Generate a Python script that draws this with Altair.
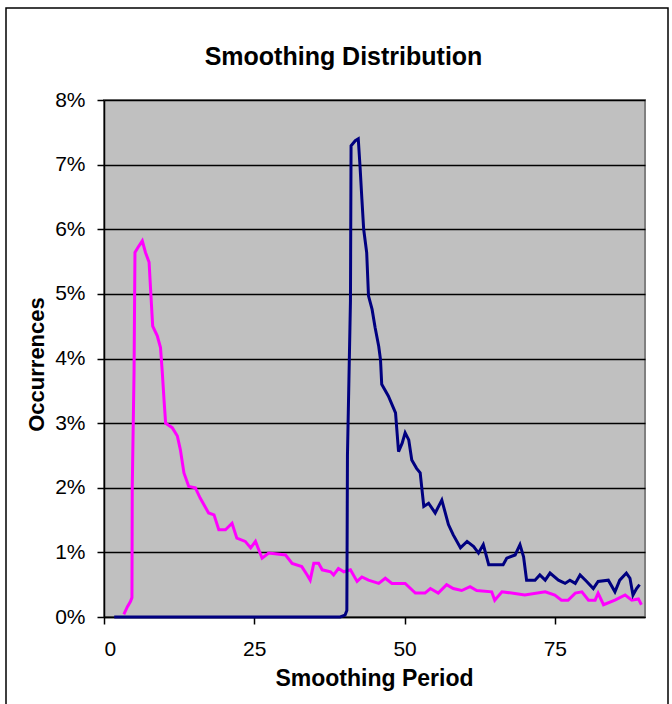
import altair as alt
import pandas as pd

# ---- data ----
navy_period = [1.7, 39.3, 40.1, 40.4, 40.5, 41.0, 41.1, 41.8, 42.3, 42.6, 42.9, 43.2, 43.7, 44.0,
               44.6, 45.1, 45.7, 46.0, 46.2, 47.3, 48.5, 49.0, 49.6, 50.1, 50.7, 51.2, 52.0, 52.6,
               53.2, 54.0, 55.1, 56.2, 57.3, 58.1, 59.3, 60.4, 61.5, 62.3, 63.1, 64.0, 66.4, 67.0,
               68.4, 69.2, 69.8, 70.3, 71.7, 72.5, 73.4, 74.2, 75.6, 76.7, 77.5, 78.4, 79.2, 80.3,
               81.4, 82.2, 83.9, 85.0, 85.8, 86.9, 87.5, 88.0, 88.6, 89.1]
navy_pct = [0.0, 0.0, 0.03, 0.1, 2.49, 4.89, 7.29, 7.37, 7.4, 6.96, 6.47, 6.0, 5.64, 4.97,
            4.76, 4.48, 4.19, 3.98, 3.6, 3.42, 3.16, 2.56, 2.69, 2.85, 2.74, 2.43, 2.3, 2.23,
            1.71, 1.76, 1.61, 1.81, 1.43, 1.27, 1.07, 1.17, 1.09, 0.99, 1.12, 0.81, 0.81, 0.91,
            0.96, 1.12, 0.93, 0.57, 0.57, 0.65, 0.57, 0.68, 0.57, 0.52, 0.57, 0.52, 0.65, 0.55,
            0.44, 0.55, 0.57, 0.39, 0.57, 0.68, 0.6, 0.34, 0.44, 0.5]

magenta_period = [3.3, 3.9, 4.4, 4.65, 4.7, 5.0, 5.15, 5.8, 6.37, 6.9, 7.5, 7.75, 8.1, 8.86,
                  9.4, 9.7, 10.0, 10.25, 11.35, 12.2, 12.7, 13.3, 14.1, 15.2, 16.0, 17.4, 18.3,
                  19.1, 20.2, 21.3, 22.1, 23.5, 24.4, 25.2, 26.3, 27.4, 30.2, 31.3, 32.9, 33.8,
                  34.3, 34.9, 35.7, 36.3, 37.7, 38.2, 39.0, 39.9, 41.0, 42.1, 42.9, 44.0, 45.7,
                  46.8, 47.9, 50.1, 51.8, 53.4, 54.3, 55.6, 57.0, 58.1, 59.5, 60.9, 62.0, 64.5,
                  65.0, 66.2, 67.8, 70.0, 73.4, 75.0, 76.1, 77.2, 78.4, 79.5, 80.6, 81.7, 82.2,
                  83.1, 85.0, 86.7, 87.8, 88.9, 89.4]
magenta_pct = [0.04, 0.16, 0.24, 0.3, 2.0, 3.8, 5.64, 5.74, 5.82, 5.64, 5.49, 5.07, 4.5, 4.35,
               4.17, 3.78, 3.34, 3.0, 2.93, 2.8, 2.59, 2.23, 2.02, 2.0, 1.84, 1.61, 1.58,
               1.35, 1.35, 1.45, 1.22, 1.17, 1.07, 1.17, 0.91, 0.99, 0.96, 0.83, 0.78, 0.65,
               0.57, 0.83, 0.83, 0.73, 0.7, 0.65, 0.75, 0.7, 0.73, 0.55, 0.62, 0.57, 0.52,
               0.6, 0.52, 0.52, 0.37, 0.37, 0.44, 0.37, 0.5, 0.44, 0.41, 0.47, 0.41, 0.39,
               0.26, 0.39, 0.37, 0.34, 0.39, 0.34, 0.26, 0.26, 0.37, 0.39, 0.26, 0.26, 0.37,
               0.19, 0.26, 0.34, 0.26, 0.28, 0.19]

x_ticks = [0, 25, 50, 75]
y_ticks = [0, 1, 2, 3, 4, 5, 6, 7, 8]

navy_df = pd.DataFrame({"period": navy_period, "pct": navy_pct})
mag_df = pd.DataFrame({"period": magenta_period, "pct": magenta_pct})

FONT = "Liberation Sans"

x_scale = alt.Scale(domain=[0, 90], nice=False, zero=False)
y_scale = alt.Scale(domain=[0, 8], nice=False)

x_axis = alt.Axis(
    values=x_ticks, title="Smoothing Period", grid=False,
    tickSize=7, tickColor="black", tickWidth=1.5,
    domainColor="black", domainWidth=1.5,
    labelFont=FONT, labelFontSize=21, labelColor="black", labelPadding=14,
    titleFont=FONT, titleFontSize=23, titleFontWeight="bold", titleColor="black",
    titleX=270, titleY=68, titleBaseline="alphabetic", titleAnchor="middle",
)
y_axis = alt.Axis(
    values=y_ticks, title="Occurrences", labelExpr="datum.value + '%'",
    grid=True, gridColor="black", gridWidth=1.5,
    tickSize=7, tickColor="black", tickWidth=1.5,
    domainColor="black", domainWidth=1.5,
    labelFont=FONT, labelFontSize=21, labelColor="black", labelPadding=12,
    titleFont=FONT, titleFontSize=22, titleFontWeight="bold", titleColor="black",
    titleAngle=-90, titleX=-61, titleY=264, titleBaseline="alphabetic", titleAnchor="middle",
)

frame = alt.Chart(pd.DataFrame({"a": [0]})).mark_rect(
    fill=None, stroke="black", strokeWidth=1.5
).encode(
    x=alt.value(-98), x2=alt.value(564), y=alt.value(-92), y2=alt.value(640)
)

mag = alt.Chart(mag_df).mark_line(color="#FF00FF", strokeWidth=3, interpolate="linear").encode(
    x=alt.X("period:Q", scale=x_scale, axis=x_axis),
    y=alt.Y("pct:Q", scale=y_scale, axis=y_axis),
)
navy = alt.Chart(navy_df).mark_line(color="#000080", strokeWidth=3, interpolate="linear").encode(
    x=alt.X("period:Q", scale=x_scale),
    y=alt.Y("pct:Q", scale=y_scale),
)

chart = alt.layer(mag, navy, frame).properties(
    width=541, height=517,
    title=alt.TitleParams(
        "Smoothing Distribution", font=FONT, fontSize=25, fontWeight="bold", color="black",
        anchor="middle", frame="group", offset=0, baseline="alphabetic", dx=-31, dy=83,
    ),
    autosize=alt.AutoSizeParams(type="none"),
    padding={"left": 104, "top": 100, "right": 27, "bottom": 87},
    background="white",
).configure_view(
    fill="#C0C0C0", stroke="#808080", strokeWidth=2
)

chart.save("out.html", embed_options={"renderer": "svg", "actions": False})
